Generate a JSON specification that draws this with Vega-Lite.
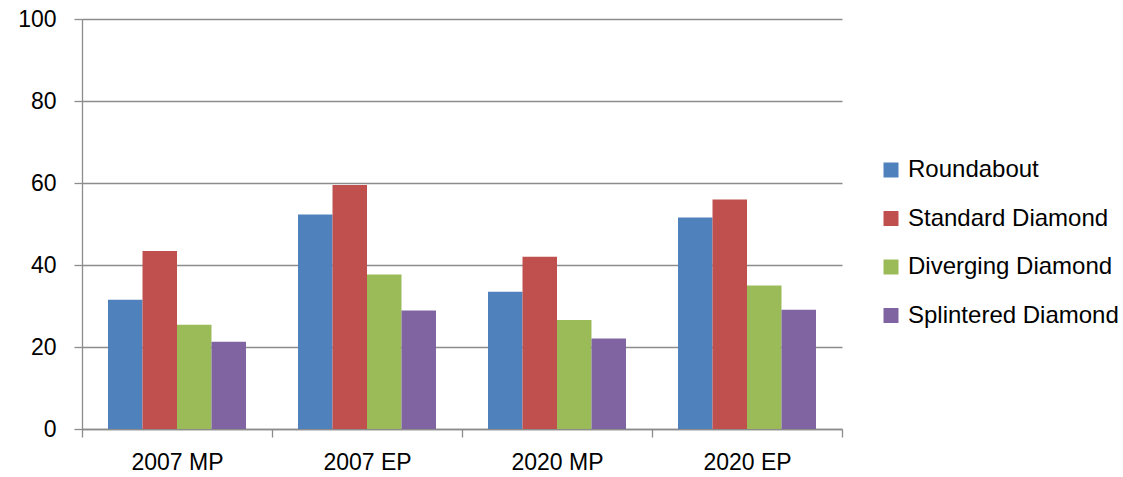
{
  "$schema": "https://vega.github.io/schema/vega-lite/v6.json",
  "width": 760,
  "height": 410,
  "autosize": {"type": "none"},
  "padding": {"left": 82, "top": 19, "right": 281, "bottom": 48},
  "background": "white",
  "config": {
    "view": {"stroke": null},
    "font": "Liberation Sans",
    "axis": {"labelFont": "Liberation Sans", "labelFontSize": 23, "labelColor": "#000000", "domainColor": "#8c8c8c", "tickColor": "#8c8c8c", "gridColor": "#8c8c8c", "domainWidth": 1.3, "tickWidth": 1.3, "gridWidth": 1.3, "tickSize": 8},
    "legend": {"labelFont": "Liberation Sans", "labelFontSize": 24, "labelColor": "#000000", "labelLimit": 400}
  },
  "data": {
    "values": [
      {"period": "2007 MP", "design": "Roundabout", "value": 31.5},
      {"period": "2007 MP", "design": "Standard Diamond", "value": 43.4},
      {"period": "2007 MP", "design": "Diverging Diamond", "value": 25.4},
      {"period": "2007 MP", "design": "Splintered Diamond", "value": 21.3},
      {"period": "2007 EP", "design": "Roundabout", "value": 52.3},
      {"period": "2007 EP", "design": "Standard Diamond", "value": 59.5},
      {"period": "2007 EP", "design": "Diverging Diamond", "value": 37.7},
      {"period": "2007 EP", "design": "Splintered Diamond", "value": 28.9},
      {"period": "2020 MP", "design": "Roundabout", "value": 33.5},
      {"period": "2020 MP", "design": "Standard Diamond", "value": 42.0},
      {"period": "2020 MP", "design": "Diverging Diamond", "value": 26.6},
      {"period": "2020 MP", "design": "Splintered Diamond", "value": 22.1},
      {"period": "2020 EP", "design": "Roundabout", "value": 51.6},
      {"period": "2020 EP", "design": "Standard Diamond", "value": 56.0},
      {"period": "2020 EP", "design": "Diverging Diamond", "value": 35.0},
      {"period": "2020 EP", "design": "Splintered Diamond", "value": 29.1}
    ]
  },
  "mark": {"type": "bar"},
  "encoding": {
    "x": {
      "field": "period", "type": "nominal",
      "sort": ["2007 MP", "2007 EP", "2020 MP", "2020 EP"],
      "scale": {"paddingInner": 0, "paddingOuter": 0},
      "axis": {"title": null, "labelAngle": 0, "tickBand": "extent", "labelPadding": 14, "grid": false}
    },
    "xOffset": {
      "field": "design", "type": "nominal",
      "sort": ["Roundabout", "Standard Diamond", "Diverging Diamond", "Splintered Diamond"],
      "scale": {"paddingInner": 0, "paddingOuter": 0.754}
    },
    "y": {
      "field": "value", "type": "quantitative",
      "scale": {"domain": [0, 100], "nice": false},
      "axis": {"title": null, "values": [0, 20, 40, 60, 80, 100], "labelPadding": 18, "grid": true}
    },
    "color": {
      "field": "design", "type": "nominal",
      "scale": {
        "domain": ["Roundabout", "Standard Diamond", "Diverging Diamond", "Splintered Diamond"],
        "range": ["#4F81BD", "#C0504D", "#9BBB59", "#8064A2"]
      },
      "legend": {
        "title": null, "orient": "none", "legendX": 797, "legendY": 139,
        "symbolType": "square", "symbolSize": 225, "symbolStrokeWidth": 0,
        "rowPadding": 24.5, "labelOffset": 5, "padding": 0, "labelLimit": 400
      }
    }
  }
}
